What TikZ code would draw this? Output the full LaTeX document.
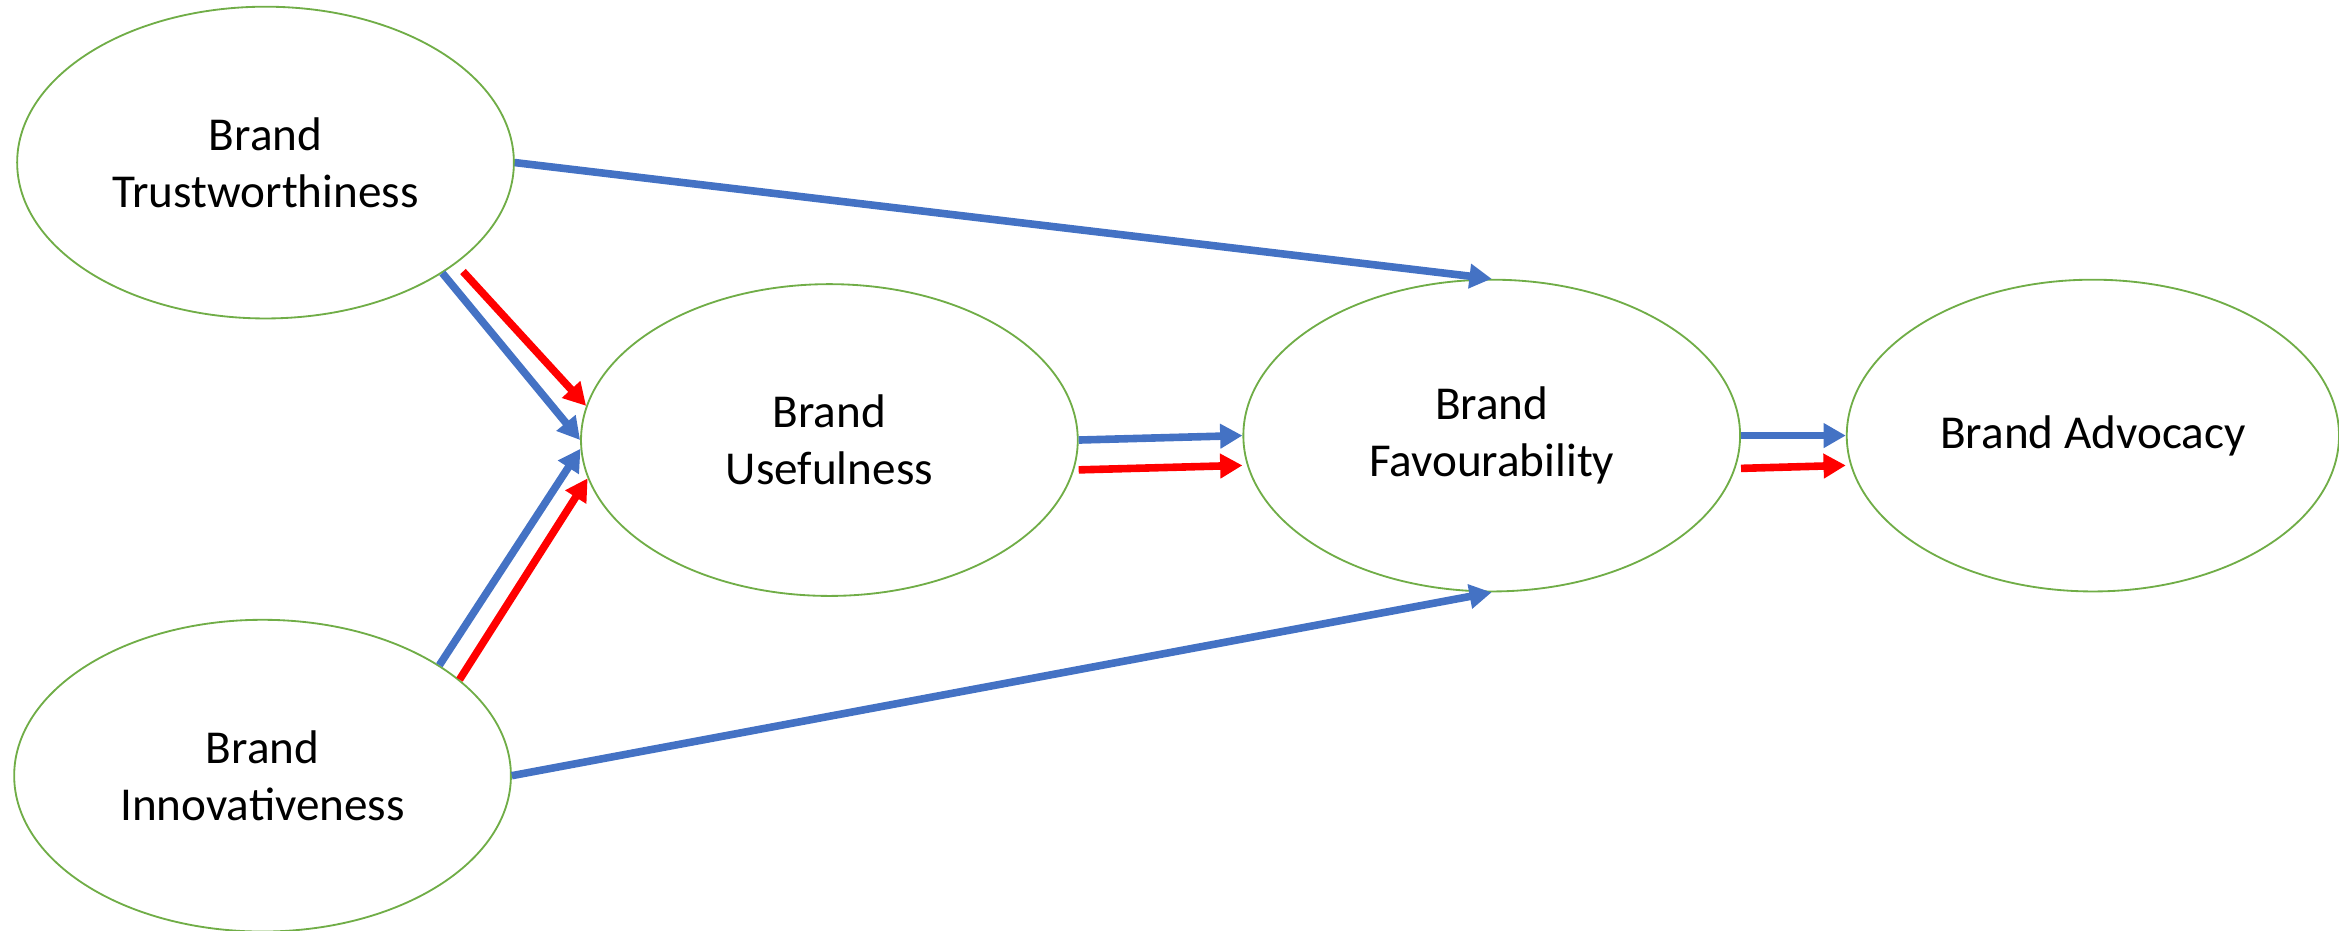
\documentclass[tikz,border=0pt]{standalone}
\usepackage{fontspec}
\setmainfont{Carlito}
\usetikzlibrary{arrows.meta, shapes.geometric}

\definecolor{verdeel}{HTML}{70AD47}
\definecolor{azulfl}{HTML}{4472C4}
\definecolor{rojofl}{HTML}{FF0000}

\begin{document}
\begin{tikzpicture}[
    font=\fontsize{18}{21.6}\selectfont,
    constr/.style={ellipse, draw=verdeel, line width=0.7pt, align=center,
      inner sep=0pt, minimum width=6.66cm, minimum height=4.18cm},
    flowb/.style={draw=azulfl, line width=2.9pt, -{Triangle[length=8.5pt, width=9pt]}},
    flowr/.style={draw=rojofl, line width=2.9pt, -{Triangle[length=8.5pt, width=9pt]}}
  ]
    \useasboundingbox (0,0) rectangle (31.36,12.48);

    % --- CONSTRUCTOS ---
    \node[constr] (trust) at (3.56, 10.30) {Brand\\Trustworthiness};
    \node[constr] (innov) at (3.52, 2.08)  {Brand\\Innovativeness};
    \node[constr] (usef)  at (11.12, 6.58) {Brand\\Usefulness};
    \node[constr] (favo)  at (20.00, 6.64) {Brand\\Favourability};
    \node[constr, minimum width=6.6cm] (advo) at (28.06, 6.64) {Brand Advocacy};

    % --- RELACIONES DIRECTAS (azul) ---
    \draw[flowb] (trust.east) -- (favo.north);
    \draw[flowb] (innov.east) -- (favo.south);
    \draw[flowb] (trust.-32) -- (usef.west);
    \draw[flowb] (innov.32) -- (usef.182);
    \draw[flowb] (usef.east) -- (favo.west);
    \draw[flowb] (favo.east) -- (advo.west);

    % --- RELACIONES MEDIADAS (rojo) ---
    \draw[flowr, shorten <=4pt] (trust.-28) -- (usef.172);
    \draw[flowr] (innov.26) -- (usef.189);
    \draw[flowr] ([yshift=-0.4cm]usef.east) -- ([yshift=-0.4cm]favo.west);
    \draw[flowr] ([yshift=-0.44cm]favo.east) -- ([yshift=-0.4cm]advo.west);

  \end{tikzpicture}
\end{document}
